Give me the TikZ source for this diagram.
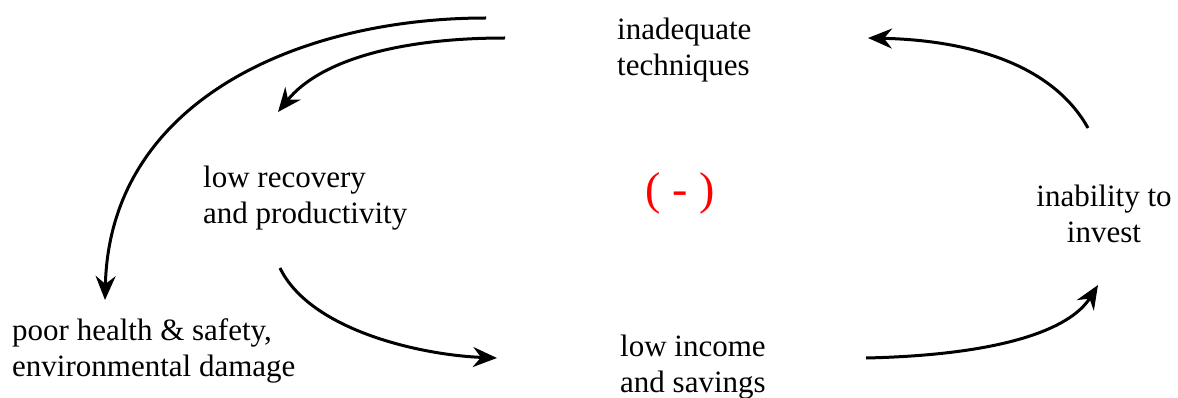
\documentclass[tikz,border=0pt]{standalone}
\usepackage{fontspec}
\setmainfont{Liberation Serif}
\newfontfamily\timesfont{Liberation Serif}
\usetikzlibrary{arrows.meta}
\tikzstyle{phrase} = [inner sep=0pt, font=\timesfont\fontsize{31}{36}\selectfont]
\tikzstyle{sign} = [inner sep=0pt, text=red, font=\timesfont\fontsize{46}{50}\selectfont]
\tikzstyle{arrow} = [line width=3pt, -{Stealth[length=24pt,width=20pt,inset=8pt]}]

\begin{document}
\begin{tikzpicture}[x=1pt, y=-1pt]
\useasboundingbox (0,0) rectangle (1178,398);
\node (techn) [phrase, anchor=west, align=left] at (617,50) {inadequate\\techniques};
\node (lowrec) [phrase, anchor=west, align=left] at (203,198) {low recovery\\and productivity};
\node (poor) [phrase, anchor=west, align=left] at (12,351) {poor health \& safety,\\environmental damage};
\node (income) [phrase, anchor=west, align=left] at (620,367) {low income\\and savings};
\node (invest) [phrase, align=center] at (1104,214) {inability to\\invest};
\node (minus) [sign] at (680,193) {( - )};

% free ends of the loop arrows
\coordinate (a1) at (486,18);
\coordinate (b1) at (105,300);
\coordinate (a2) at (505,38);
\coordinate (b2) at (278,112);
\coordinate (a3) at (280,268);
\coordinate (b3) at (497,358);
\coordinate (a4) at (866,358);
\coordinate (b4) at (1098,285);
\coordinate (a5) at (1088,128);
\coordinate (b5) at (868,38);

\draw [arrow] (a1) .. controls (300,18) and (110,100) .. (b1);
\draw [arrow] (a2) .. controls (400,38) and (320,60) .. (b2);
\draw [arrow] (a3) .. controls (310,330) and (420,355) .. (b3);
\draw [arrow] (a4) .. controls (1000,355) and (1070,330) .. (b4);
\draw [arrow] (a5) .. controls (1050,60) and (960,40) .. (b5);
\end{tikzpicture}
\end{document}
